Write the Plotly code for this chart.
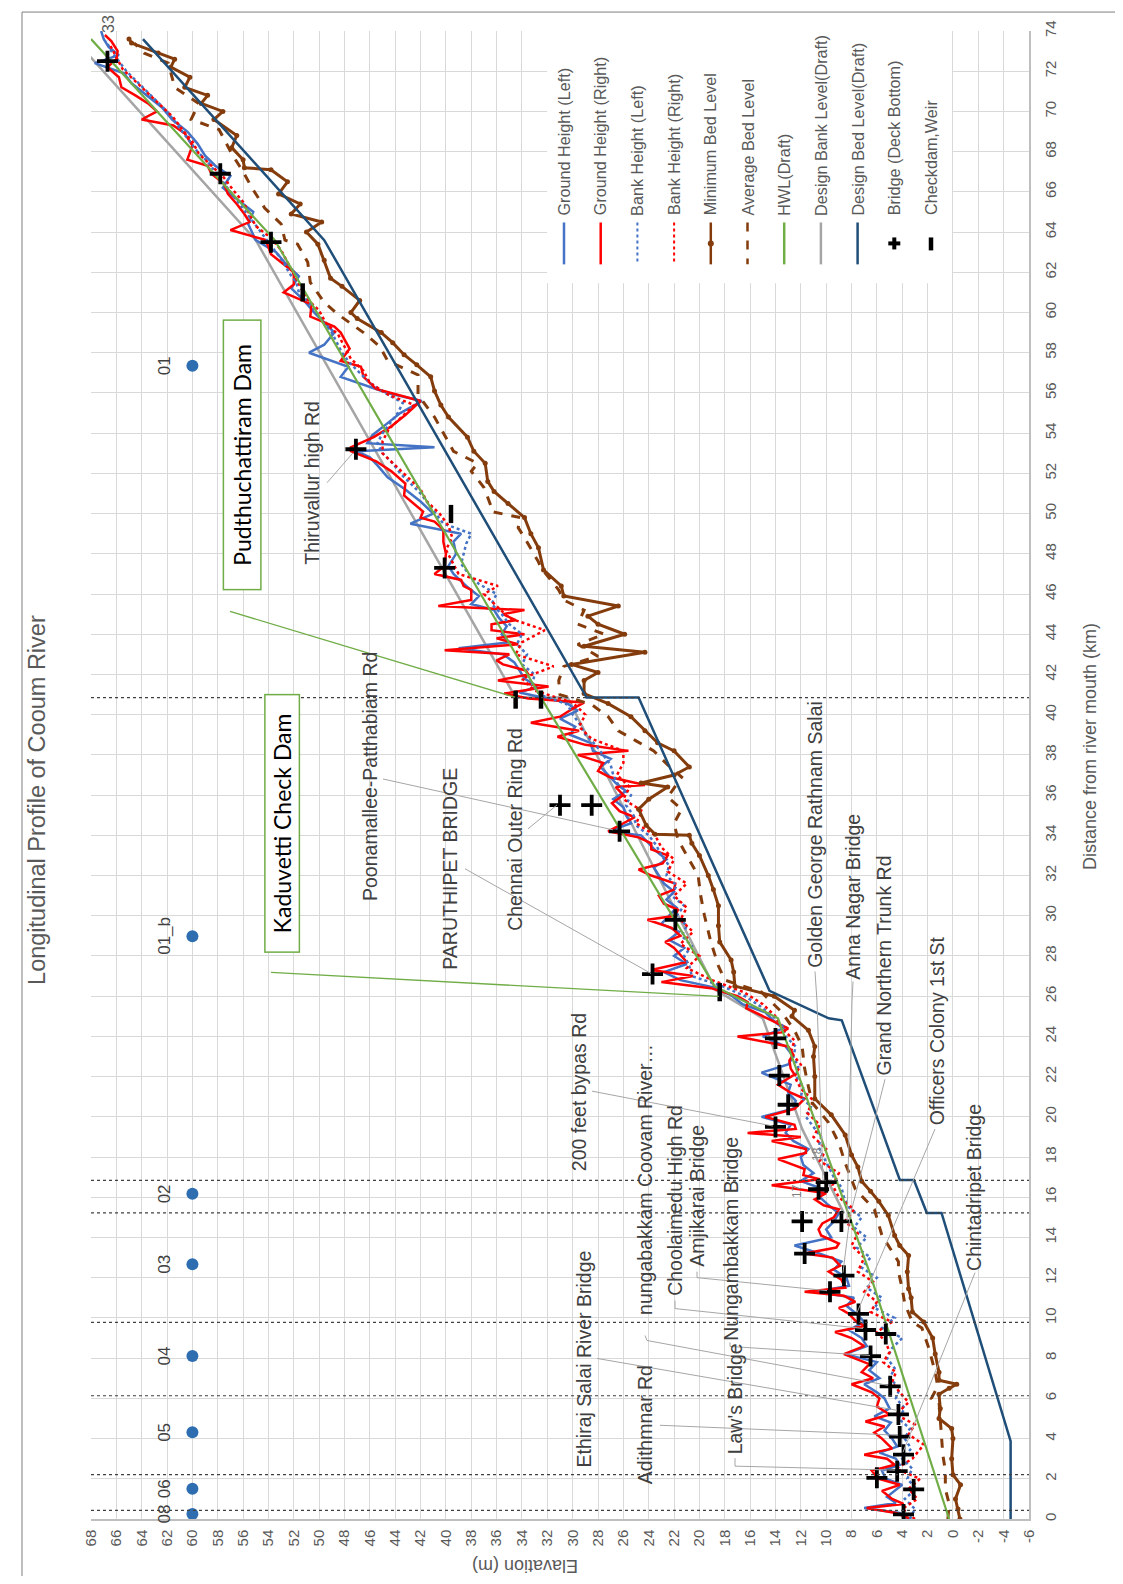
import plotly.graph_objects as go

# ---------------- DATA (distance km, elevation m) ----------------
ground_right = [(0.0,3.3),(0.3,4.5),(0.55,6.8),(0.75,3.9),(1.0,4.8),(1.4,5.6),(1.7,4.2),(2.0,5.9),(2.4,6.4),(2.7,4.6),
 (3.0,5.2),(3.2,7.0),(3.5,4.8),(4.0,5.6),(4.3,6.2),(4.6,5.4),(4.85,6.9),(5.2,5.0),(5.6,6.0),(6.0,5.8),(6.3,6.4),(6.7,8.0),
 (7.0,6.3),(7.3,7.2),(7.7,6.6),(8.2,8.6),(8.6,7.0),(9.0,8.0),(9.3,9.3),(9.6,7.0),(9.8,7.6),(10.2,8.2),(10.5,9.0),(10.8,7.7),
 (11.1,8.6),(11.3,11.7),(11.5,8.5),(11.9,8.8),(12.3,9.8),(12.6,8.9),(13.0,9.5),(13.2,11.7),(13.5,9.2),(13.7,9.0),(14.1,10.4),
 (14.4,10.6),(14.7,10.3),(15.0,9.4),(15.4,9.0),(15.6,10.2),(15.9,10.9),(16.2,10.0),(16.6,14.3),(16.9,10.5),(17.1,11.8),
 (17.4,11.7),(17.9,13.8),(18.2,11.6),(18.4,11.6),(18.8,14.3),(19.0,12.0),(19.2,16.2),(19.4,12.4),(19.6,12.5),(20.0,14.8),
 (20.4,12.5),(20.9,11.7),(21.2,12.8),(21.6,13.8),(22.1,12.5),(22.4,12.8),(22.8,12.9),(23.1,12.6),(23.5,13.0),(24.0,17.0),
 (24.2,13.5),(24.4,13.0),(24.7,14.0),(25.0,15.1),(25.4,16.3),(25.7,16.2),(26.0,17.0),(26.4,19.1),(26.7,23.0),(27.0,20.5),
 (27.3,23.8),(27.7,21.0),(28.0,21.4),(28.4,22.0),(28.7,22.7),(29.0,21.5),(29.4,22.2),(29.8,24.1),(30.0,21.9),(30.3,21.7),
 (30.6,22.8),(31.0,23.2),(31.3,22.0),(31.6,21.9),(32.0,23.8),(32.3,24.8),(32.6,22.9),(33.0,22.5),(33.3,23.8),(33.6,23.8),
 (33.9,24.8),(34.2,27.2),(34.6,26.0),(34.9,25.1),(35.2,26.3),(35.6,26.9),(36.0,26.0),(36.4,26.6),(36.5,24.3),(36.9,27.1),
 (37.2,28.0),(37.6,27.6),(38.0,29.6),(38.2,25.6),(38.5,29.0),(38.9,31.2),(39.2,29.5),(39.6,33.3),(39.9,31.0),(40.3,30.0),
 (40.6,29.1),(40.8,33.5),(41.05,35.4),(41.4,31.9),(41.7,35.9),(42.0,33.5),(42.2,33.7),(42.5,35.5),(42.7,36.0),(43.0,35.0),
 (43.2,40.1),(43.5,34.3),(43.8,36.0),(44.0,33.8),(44.2,36.4),(44.5,36.4),(44.7,34.5),(45.0,35.5),(45.2,33.8),(45.4,40.6),
 (45.7,38.0),(46.2,38.0),(46.4,38.6),(46.7,38.8),(47.0,40.9),(47.4,40.1),(48.0,40.0),(48.6,40.2),(49.2,40.2),(49.6,40.9),
 (49.8,42.0),(50.1,41.8),(50.9,43.3),(51.5,43.2),(52.1,44.3),(52.6,45.5),(53.1,47.5),(53.3,47.5),(53.8,45.7),(54.3,44.4),
 (54.9,43.2),(55.6,42.0),(56.2,45.5),(56.8,46.5),(57.3,46.7),(57.6,48.3),(58.2,47.6),(59.0,48.3),(59.3,48.8),(59.8,50.7),
 (60.4,50.6),(61.0,52.8),(61.4,52.0),(62.0,52.0),(62.5,53.0),(62.9,53.8),(63.6,54.2),(64.1,57.0),(64.5,55.5),(64.9,55.9),
 (65.4,56.5),(65.9,57.2),(66.4,57.5),(66.9,58.5),(67.3,58.8),(67.6,60.4),(68.3,60.0),(68.9,60.6),(69.3,61.5),(69.6,64.0),
 (70.0,62.8),(70.4,63.5),(70.8,64.5),(71.2,65.6),(71.7,65.8),(72.2,66.7),(72.6,66.0),(73.0,65.9),(73.5,66.4),(73.8,66.9)]

ground_left = [(0.0,3.6),(0.3,4.2),(0.55,7.0),(0.8,4.5),(1.1,5.2),(1.4,4.6),(1.7,4.0),(2.0,5.3),(2.4,5.6),(2.7,4.2),
 (3.0,4.5),(3.3,5.8),(3.6,4.4),(4.0,4.8),(4.4,5.4),(4.8,4.9),(5.1,6.2),(5.5,5.0),(6.0,5.4),(6.3,6.0),(6.7,7.0),(7.0,5.8),
 (7.4,6.6),(7.8,6.0),(8.2,8.5),(8.6,6.8),(9.0,7.2),(9.4,8.2),(9.8,7.0),(10.2,7.6),(10.6,8.4),(11.0,7.8),(11.3,10.8),
 (11.6,8.2),(12.0,8.4),(12.4,9.4),(12.8,8.8),(13.2,10.5),(13.6,12.5),(14.0,9.6),(14.4,10.0),(14.8,9.4),(15.2,9.0),
 (15.6,9.8),(16.0,10.5),(16.4,10.2),(16.8,12.0),(17.2,11.0),(17.6,11.8),(18.0,12.0),(18.4,11.4),(18.8,12.6),(19.2,13.2),
 (19.6,12.8),(20.0,15.1),(20.4,12.6),(20.8,12.4),(21.2,13.0),(21.6,12.8),(22.2,15.1),(22.6,13.0),(23.0,12.6),(23.5,13.2),
 (24.0,15.0),(24.4,13.4),(24.8,14.2),(25.2,14.8),(25.6,16.6),(26.0,17.4),(26.4,18.6),(26.8,21.5),(27.2,22.8),(27.6,21.0),
 (28.0,22.0),(28.4,21.2),(28.8,22.4),(29.2,21.6),(29.6,23.0),(30.0,22.4),(30.4,21.8),(30.8,22.6),(31.2,22.0),(31.6,22.8),
 (32.0,23.2),(32.4,23.6),(32.8,22.6),(33.2,23.4),(33.6,24.0),(34.0,24.6),(34.2,27.2),(34.6,25.4),(35.0,25.8),(35.4,26.0),
 (35.8,26.8),(36.2,25.8),(36.6,26.6),(37.0,27.2),(37.4,27.8),(37.8,27.0),(38.2,28.4),(38.6,28.6),(39.0,30.2),(39.4,29.8),
 (39.8,31.0),(40.2,29.6),(40.6,30.5),(40.8,32.0),(41.1,34.2),(41.4,32.8),(41.8,33.8),(42.2,34.2),(42.6,34.6),(43.0,35.5),
 (43.3,39.0),(43.6,35.0),(44.0,35.6),(44.4,35.2),(44.8,35.8),(45.2,36.2),(45.5,38.0),(45.9,37.4),(46.4,38.4),(47.0,39.4),
 (47.4,39.8),(48.0,39.2),(48.6,39.4),(49.0,38.8),(49.5,42.8),(50.0,41.0),(50.6,42.0),(51.2,43.2),(51.8,44.6),(52.4,45.4),
 (52.8,46.0),(53.1,47.0),(53.3,40.9),(53.5,46.2),(53.9,45.8),(54.5,44.6),(55.0,43.6),(55.6,41.9),(56.0,44.6),(56.8,48.3),
 (57.3,47.7),(58.0,50.8),(58.4,49.6),(59.0,48.8),(59.5,49.6),(60.0,50.4),(60.6,51.2),(61.2,52.2),(61.8,51.6),(62.4,52.6),
 (63.0,53.4),(63.6,55.0),(64.4,55.6),(65.0,55.2),(65.6,56.4),(66.2,57.6),(66.8,57.0),(67.3,58.2),(67.8,59.0),(68.4,59.6),
 (69.0,60.4),(69.6,61.6),(70.2,62.4),(70.8,63.6),(71.4,64.8),(71.9,65.4),(72.4,67.7),(72.8,65.8),(73.2,66.6),(73.6,67.0),
 (74.0,67.2)]

bank_left = [(0.0,3.4),(0.5,3.0),(1.0,3.8),(1.5,2.9),(2.0,3.6),(2.5,3.2),(3.0,4.0),(3.5,3.3),(4.0,3.8),(4.5,3.4),(5.0,4.3),
 (5.5,3.8),(6.0,4.5),(6.5,4.2),(7.0,5.0),(7.5,4.6),(8.0,5.2),(8.5,4.8),(9.0,4.0),(9.5,5.6),(10.0,4.6),(10.5,6.2),(11.0,5.6),
 (11.5,6.8),(12.0,6.0),(12.5,7.2),(13.0,6.5),(13.5,7.6),(14.0,6.8),(14.5,7.8),(15.0,7.2),(15.5,8.2),(16.0,8.6),(16.5,8.8),
 (17.0,9.4),(17.5,9.8),(18.0,10.2),(18.5,10.6),(19.0,10.4),(19.5,11.0),(20.0,11.6),(20.5,11.2),(21.0,12.0),(21.5,11.8),
 (22.0,12.4),(22.5,12.2),(23.0,12.6),(23.5,12.4),(24.0,13.2),(24.5,13.4),(25.0,14.2),(25.5,15.2),(26.0,16.4),(26.5,18.2),
 (27.0,20.6),(27.5,20.8),(28.0,21.2),(28.5,20.6),(29.0,21.4),(29.5,21.0),(30.0,21.8),(30.5,21.2),(31.0,22.2),(31.5,21.8),
 (32.0,22.6),(32.5,22.4),(33.0,23.0),(33.5,23.4),(34.0,24.0),(34.5,25.0),(35.0,25.2),(35.5,25.8),(36.0,25.4),(36.5,26.4),
 (37.0,26.8),(37.5,27.0),(38.0,27.6),(38.5,28.2),(39.0,29.0),(39.5,29.4),(40.0,30.0),(40.5,30.4),(41.0,32.6),(41.5,33.2),
 (42.0,33.0),(42.5,34.0),(43.0,33.6),(43.5,34.4),(44.0,34.0),(44.5,35.0),(45.0,35.6),(45.5,36.4),(46.0,36.0),(46.5,37.4),
 (47.0,38.2),(47.5,38.8),(48.0,38.6),(48.5,38.4),(49.0,38.0),(49.5,40.2),(50.0,40.8),(50.5,41.4),(51.0,42.0),(51.5,42.8),
 (52.0,43.6),(52.5,44.2),(53.0,45.0),(53.5,45.4),(54.0,45.0),(54.5,44.4),(55.0,43.8),(55.5,43.4),(56.0,44.8),(56.5,46.0),
 (57.0,46.8),(57.5,47.6),(58.0,48.2),(58.5,48.6),(59.0,49.0),(59.5,49.6),(60.0,50.2),(60.5,50.8),(61.0,51.6),(61.5,51.8),
 (62.0,52.4),(62.5,52.8),(63.0,53.4),(63.5,54.0),(64.0,54.6),(64.5,55.2),(65.0,55.8),(65.5,56.4),(66.0,57.0),(66.5,57.6),
 (67.0,58.2),(67.5,58.8),(68.0,59.6),(68.5,60.2),(69.0,60.8),(69.5,61.4),(70.0,62.0),(70.5,62.8),(71.0,63.6),(71.5,64.4),
 (72.0,65.2),(72.5,65.8),(73.0,66.4),(73.5,66.8)]

bank_right = [(0.0,3.0),(0.5,4.0),(1.0,2.8),(1.5,3.5),(2.0,2.6),(2.5,4.5),(3.0,3.2),(3.7,2.3),(4.2,3.5),(4.7,3.0),(5.2,4.5),
 (5.8,3.5),(6.3,4.2),(6.8,4.8),(7.3,4.5),(7.8,5.5),(8.3,5.0),(8.8,5.3),(9.3,6.0),(9.8,4.8),(10.3,6.5),(10.8,6.0),(11.3,7.0),
 (11.8,6.3),(12.3,7.5),(13.0,7.0),(13.6,8.0),(14.2,7.5),(14.8,8.5),(15.4,7.8),(16.0,9.0),(16.6,9.5),(17.2,9.0),(17.8,10.5),
 (18.4,10.0),(19.0,11.0),(19.6,10.5),(20.2,11.5),(20.8,11.0),(21.4,12.0),(22.0,12.5),(22.6,12.0),(23.2,12.8),(23.8,12.5),
 (24.4,13.5),(25.0,14.0),(25.6,15.0),(26.2,16.5),(26.8,19.0),(27.4,21.0),(28.0,20.0),(28.6,21.5),(29.2,20.5),(29.8,21.5),
 (30.4,21.0),(31.0,22.0),(31.6,21.0),(32.2,22.5),(32.8,22.0),(33.4,23.0),(34.0,23.5),(34.6,25.0),(35.2,24.5),(35.8,26.0),
 (36.4,25.5),(37.0,26.5),(37.6,26.0),(38.2,26.0),(38.8,28.5),(39.4,29.5),(40.0,29.0),(40.6,30.0),(41.2,33.0),(41.8,34.0),
 (42.4,31.5),(43.0,34.5),(43.6,34.0),(44.2,32.2),(44.8,35.0),(45.4,36.0),(46.0,37.0),(46.4,35.9),(47.0,39.0),(47.6,39.5),
 (48.2,40.0),(48.8,39.5),(49.4,39.8),(50.0,40.5),(50.6,41.5),(51.2,42.0),(51.8,43.0),(52.4,44.0),(53.0,45.0),(53.6,45.0),
 (54.2,44.5),(54.8,43.5),(55.4,42.5),(55.9,44.5),(56.5,46.0),(57.1,46.5),(57.7,47.5),(58.3,48.0),(58.9,48.5),(59.5,49.5),
 (60.1,50.0),(60.7,51.0),(61.3,51.5),(61.9,52.0),(62.5,52.5),(63.1,53.0),(63.7,53.8),(64.3,55.0),(64.9,55.5),(65.5,56.0),
 (66.1,56.8),(66.7,57.5),(67.3,58.5),(67.9,59.5),(68.5,60.0),(69.1,60.8),(69.7,61.5),(70.3,62.5),(70.9,63.5),(71.5,64.5),
 (72.1,65.5),(72.7,66.0),(73.3,66.5)]

min_bed = [(0.0,-0.55),(0.5,-0.4),(1.0,-0.2),(1.7,-0.6),(2.2,0.0),(3.0,0.1),(4.0,0.0),(4.5,0.1),(5.0,1.1),(5.5,1.0),
 (6.2,1.1),(6.5,0.3),(6.7,-0.3),(6.9,1.1),(7.3,1.1),(8.2,1.4),(9.0,1.6),(9.8,2.3),(10.3,3.2),(11.0,3.3),(11.45,3.5),
 (12.3,3.6),(13.1,3.5),(13.6,4.2),(14.1,4.6),(15.1,5.1),(15.8,5.85),(16.3,6.5),(16.8,7.2),(17.5,7.5),(18.1,8.0),(19.1,8.5),
 (20.1,9.6),(20.9,10.9),(22.0,10.9),(23.0,11.0),(23.5,10.9),(24.3,11.4),(25.0,12.7),(25.3,12.5),(26.0,14.1),(26.5,17.2),
 (27.2,17.3),(27.8,17.5),(28.7,18.4),(29.5,18.5),(30.5,18.5),(31.3,18.9),(32.0,19.3),(33.0,20.0),(33.6,20.6),(34.0,20.8),
 (34.05,23.5),(34.5,24.2),(35.3,24.8),(35.8,24.0),(36.4,22.5),(36.6,24.6),(37.0,22.0),(37.4,20.8),(38.2,22.0),(38.6,23.3),
 (39.2,24.3),(39.9,25.4),(40.55,27.2),(41.05,29.1),(41.7,29.1),(42.1,28.0),(42.5,30.1),(43.1,24.3),(43.4,29.1),(44.0,25.9),
 (44.5,28.0),(44.9,28.8),(45.4,26.4),(45.9,30.7),(46.4,30.9),(47.2,32.3),(48.3,32.7),(49.0,33.3),(49.8,33.8),(50.5,35.1),
 (51.1,36.2),(51.6,36.7),(52.5,36.9),(53.1,37.8),(53.8,38.3),(54.8,39.8),(55.4,40.4),(56.1,40.9),(56.8,41.2),(57.4,42.3),
 (57.9,43.3),(58.5,44.2),(59.0,45.1),(59.7,47.0),(60.0,47.5),(60.6,46.8),(61.3,48.2),(61.7,49.1),(62.6,49.6),(63.4,50.1),
 (64.0,51.0),(64.5,49.8),(64.9,52.2),(65.4,51.5),(65.9,53.2),(66.5,52.5),(67.1,53.8),(67.2,55.9),(67.6,56.0),(68.2,56.9),
 (68.8,56.5),(69.6,58.3),(70.0,57.6),(70.4,59.3),(70.8,58.8),(71.2,60.6),(71.7,60.2),(72.2,61.7),(72.6,61.4),(72.9,62.7),
 (73.4,64.8),(73.6,65.0)]

avg_bed = [(0.0,0.4),(0.75,0.3),(1.5,0.6),(2.4,0.6),(3.2,0.8),(4.0,0.9),(5.0,1.0),(5.85,1.1),(6.0,1.7),(6.6,1.2),(7.3,1.4),
 (8.5,1.9),(9.5,2.45),(9.8,3.2),(10.7,3.8),(11.45,4.0),(12.3,4.3),(12.8,4.3),(13.5,5.0),(14.1,5.6),(15.4,6.2),(16.4,7.7),
 (17.7,8.5),(18.7,9.0),(19.7,9.8),(20.7,11.1),(21.5,11.4),(22.4,11.7),(23.5,11.9),(24.3,12.5),(25.2,13.5),(25.7,14.3),
 (26.2,15.1),(26.8,18.0),(27.5,18.5),(28.7,19.1),(30.0,19.6),(31.0,19.9),(32.0,20.1),(33.0,21.0),(33.8,21.7),(34.6,22.0),
 (35.3,21.4),(35.9,22.5),(36.9,21.4),(37.5,22.5),(38.2,23.6),(38.7,25.0),(39.2,26.4),(39.9,27.2),(40.5,28.5),(41.0,31.0),
 (41.7,31.1),(42.4,30.7),(42.9,28.0),(43.5,29.6),(44.0,27.5),(44.5,29.6),(45.2,29.1),(45.7,30.7),(46.2,31.1),(47.3,32.5),
 (47.6,32.7),(48.8,33.8),(49.3,34.3),(49.8,34.1),(50.1,36.4),(50.3,36.4),(51.3,37.0),(52.1,38.0),(52.5,37.5),(53.1,39.4),
 (53.9,40.1),(54.8,40.9),(55.9,42.2),(56.9,42.2),(57.6,44.6),(58.3,45.2),(59.0,46.5),(59.9,48.5),(60.5,49.6),(61.5,50.7),
 (62.5,50.9),(63.4,51.7),(63.6,52.7),(64.4,53.0),(65.2,54.3),(66.2,55.3),(67.0,56.0),(67.9,56.9),(69.1,57.9),(69.6,60.1),
 (70.4,59.5),(71.2,61.4),(72.4,61.9),(72.9,63.8),(73.4,64.6)]

hwl_d = [0.0, 12.3, 24.9, 26.5, 40.85, 55.4, 63.6, 73.6]
hwl_e = [0.3, 6.6, 13.8, 18.8, 32.5, 45.9, 53.5, 68.0]

design_bank_d = [15.2, 19.4, 24.9, 26.3, 40.85, 40.85, 63.6, 74.0]
design_bank_e = [8.6, 11.9, 15.0, 18.7, 30.4, 34.5, 55.0, 69.9]

design_bed_d = [0.0, 3.87, 15.22, 15.22, 16.86, 16.86, 24.8, 24.9, 26.27, 40.85, 40.85, 63.6, 73.6]
design_bed_e = [-4.55, -4.55, 0.9, 2.06, 3.08, 4.19, 8.77, 9.8, 14.47, 24.8, 28.9, 49.6, 63.9]

bridge_d = [0.23, 1.47, 2.05, 2.38, 3.2, 4.1, 5.2, 6.6, 8.1, 9.2, 9.4, 10.2, 11.3, 12.1, 13.2, 14.8, 14.8, 16.4, 16.75,
            19.5, 20.6, 22.05, 23.9, 27.1, 29.8, 34.2, 35.5, 35.5, 47.3, 53.2, 63.5, 66.9, 72.5]
bridge_e = [3.9, 3.1, 6.0, 4.4, 3.9, 4.2, 4.3, 4.95, 6.5, 5.3, 6.9, 7.45, 9.7, 8.6, 11.7, 11.9, 8.8, 10.6, 10.0,
            14.0, 13.0, 13.7, 14.0, 23.7, 21.9, 26.3, 31.0, 28.5, 40.1, 47.1, 53.8, 57.8, 66.7]

checkdam_d = [26.2, 40.75, 40.75, 49.98, 61.0]
checkdam_e = [18.4, 34.5, 32.5, 39.6, 51.3]

station_d = [0.25, 1.51, 4.31, 8.11, 12.67, 16.17, 28.98, 57.35]
station_e = [60, 60, 60, 60, 60, 60, 60, 60]
station_lbl = ['08', '06', '05', '04', '03', '02', '01_b', '01']

section_lines_d = [0.43, 2.21, 6.13, 9.78, 15.22, 16.84, 40.85]

elev_ticks = list(range(68, -7, -2))
elev_tick_text = [str(v) for v in elev_ticks]
dist_ticks = list(range(0, 75, 2))
dist_tick_text = [str(v) for v in dist_ticks]

# ---------------- LAYOUT HELPERS ----------------
W, H = 1107, 1568
OFF = 8
PL, PR, PT, PB = 91, 1029, 27, 1519
FONT = "Liberation Sans, Arial, sans-serif"


def px(x):
    return (x - PL) / (PR - PL)


def py(y):
    return (PB - y) / (PB - PT)


def unzip(pairs):
    return [p[1] for p in pairs], [p[0] for p in pairs]


fig = go.Figure()


def line_trace(x, y, color, width, dash='solid', mode='lines', msize=0):
    fig.add_trace(go.Scatter(x=x, y=y, mode=mode, showlegend=False, hoverinfo='skip',
                             line=dict(color=color, width=width, dash=dash),
                             marker=dict(size=msize, color=color)))


BLUE, RED, BROWN, GREEN, GRAY, NAVY = '#4472c4', '#ff0000', '#843c0c', '#70ad47', '#a5a5a5', '#1f4e79'

line_trace(design_bank_e, design_bank_d, GRAY, 2.5)
e, d = unzip(ground_left); line_trace(e, d, BLUE, 2.5)
e, d = unzip(ground_right); line_trace(e, d, RED, 2.5)
e, d = unzip(bank_left); line_trace(e, d, BLUE, 2.5, 'dot')
e, d = unzip(bank_right); line_trace(e, d, RED, 2.5, 'dot')
e, d = unzip(min_bed); line_trace(e, d, BROWN, 3, mode='lines+markers', msize=5)
e, d = unzip(avg_bed); line_trace(e, d, BROWN, 3, 'dash')
line_trace(hwl_e, hwl_d, GREEN, 2.2)
line_trace(design_bed_e, design_bed_d, NAVY, 2.5)

fig.add_trace(go.Scatter(x=bridge_e, y=bridge_d, mode='markers', showlegend=False, hoverinfo='skip',
                         marker=dict(symbol='cross-thin', size=15, line=dict(color='black', width=3.8))))
fig.add_trace(go.Scatter(x=checkdam_e, y=checkdam_d, mode='markers', showlegend=False, hoverinfo='skip',
                         marker=dict(symbol='line-ns', size=13, line=dict(color='black', width=4.5))))
fig.add_trace(go.Scatter(x=station_e, y=station_d, mode='markers', showlegend=False, hoverinfo='skip',
                         marker=dict(symbol='circle', size=12, color='#2e6eb0')))

shapes = []
annotations = []


def seg(x0, y0, x1, y1, color='#a6a6a6', width=1, dash='solid'):
    shapes.append(dict(type='line', xref='paper', yref='paper', x0=px(x0), y0=py(y0), x1=px(x1), y1=py(y1),
                       line=dict(color=color, width=width, dash=dash), layer='above'))


def poly(pts, color='#a6a6a6', width=1):
    for a, b in zip(pts[:-1], pts[1:]):
        seg(a[0], a[1], b[0], b[1], color, width)


def rtext(text, x, y, size, color='#404040', family=FONT, xanchor='center', yanchor='middle', **kw):
    annotations.append(dict(text=text, x=px(x), y=py(y), xref='paper', yref='paper', showarrow=False,
                            textangle=-90, font=dict(size=size, color=color, family=family),
                            xanchor=xanchor, yanchor=yanchor, **kw))


# section (dotted) lines
for dd in section_lines_d:
    shapes.append(dict(type='line', xref='paper', yref='y', x0=0, x1=1, y0=dd, y1=dd,
                       line=dict(color='#404040', width=1.2, dash='dot'), layer='above'))

# chart frame
shapes.append(dict(type='rect', xref='paper', yref='paper', x0=px(22), x1=px(1200), y0=py(8), y1=py(1700),
                   line=dict(color='#7f7f7f', width=1), layer='above'))

# green callout lines
seg(271, 971, 719, 995, GREEN, 1.3)
seg(230, 609, 515, 695, GREEN, 1.3)

# leader lines
poly([(327, 480), (353, 450)])
poly([(383, 777), (613, 828)])
poly([(465, 867), (651, 972)])
poly([(528, 827), (557, 803)])
poly([(815, 970), (817, 1000), (823, 1180)])
poly([(853, 980), (852, 1000), (847, 1220)])
poly([(885, 1078), (872, 1130), (850, 1215), (843, 1272)])
poly([(935, 1128), (857, 1312)])
poly([(975, 1272), (903, 1452)])
poly([(592, 1090), (773, 1125)])
poly([(645, 1335), (647, 1340), (888, 1385)])
poly([(675, 1300), (675, 1308), (863, 1328)])
poly([(697, 1271), (697, 1277), (827, 1290)])
poly([(730, 1342), (730, 1346), (870, 1355)])
poly([(597, 1358), (897, 1410)])
poly([(660, 1425), (898, 1435)])
poly([(735, 1458), (735, 1466), (895, 1470)])

# legend box
shapes.append(dict(type='rect', xref='paper', yref='paper', x0=px(547), x1=px(952), y0=py(280), y1=py(27),
                   fillcolor='white', line=dict(width=0), layer='above'))
legend_items = [('Ground Height (Left)', BLUE, 'solid'), ('Ground Height (Right)', RED, 'solid'),
                ('Bank Height (Left)', BLUE, 'dot'), ('Bank Height (Right)', RED, 'dot'),
                ('Minimum Bed Level', BROWN, 'solid'), ('Average Bed Level', BROWN, 'dash'),
                ('HWL(Draft)', GREEN, 'solid'), ('Design Bank Level(Draft)', GRAY, 'solid'),
                ('Design Bed Level(Draft)', NAVY, 'solid'), ('Bridge (Deck Bottom)', None, 'plus'),
                ('Checkdam,Weir', None, 'bar')]
for i, (name, col, kind) in enumerate(legend_items):
    lx = 564 + 36.7 * i
    if kind == 'plus':
        seg(lx - 6, 240, lx + 6, 240, 'black', 4)
        seg(lx, 234, lx, 246, 'black', 4)
    elif kind == 'bar':
        seg(lx, 234, lx, 247, 'black', 4.5)
    else:
        seg(lx, 219, lx, 261, col, 2.5 if kind != 'dot' else 2, kind)
        if name == 'Minimum Bed Level':
            shapes.append(dict(type='circle', xref='paper', yref='paper', x0=px(lx - 3), x1=px(lx + 3),
                               y0=py(243), y1=py(237), fillcolor=BROWN, line=dict(width=0), layer='above'))
    rtext(name, lx, 214, 16.2, '#595959', yanchor='bottom')

# title and axis titles
rtext('Longitudinal Profile of Cooum River', 37, 798, 23.5, '#595959')
rtext('Distance from river mouth (km)', 1090, 745, 18, '#595959')
annotations.append(dict(text='Elavation (m)', x=px(525), y=py(1566), xref='paper', yref='paper',
                        showarrow=False, textangle=180, font=dict(size=18, color='#595959', family=FONT),
                        xanchor='center', yanchor='middle'))

# station labels
for sd, lbl in zip(station_d, station_lbl):
    annotations.append(dict(text=lbl, x=62.2, y=sd, xref='x', yref='y', showarrow=False, textangle=-90,
                            font=dict(size=17, color='#404040', family=FONT), xanchor='center', yanchor='middle'))
rtext('33', 108, 20, 16, '#595959')
rtext('18', 817, 1153, 12, '#7f7f7f')
rtext('17', 797, 1190, 12, '#7f7f7f')

# dam boxes
for txt, cx, cy, ln, th in [('Pudthuchattiram Dam', 242.5, 452, 268, 36), ('Kaduvetti Check Dam', 282, 822, 256, 33)]:
    annotations.append(dict(text=txt, x=px(cx), y=py(cy), xref='paper', yref='paper', showarrow=False,
                            textangle=-90, width=ln, height=th, align='center', valign='middle',
                            font=dict(size=23, color='black', family='Lato, Carlito, sans-serif'),
                            bordercolor=GREEN, borderwidth=1.5, borderpad=0, bgcolor='white',
                            xanchor='center', yanchor='middle'))

# bridge labels
for txt, cx, cy in [('Thiruvallur high Rd', 312, 480), ('Poonamallee-Patthabiam Rd', 370, 775),
                    ('PARUTHIPET BRIDGE', 450, 867), ('Chennai Outer Ring Rd', 515, 828),
                    ('Golden George Rathnam Salai', 815, 833), ('Anna Nagar Bridge', 853, 895),
                    ('Grand Northern Trunk Rd', 884, 964), ('Officers Colony 1st St', 937, 1030),
                    ('Chintadripet Bridge', 974, 1187), ('200 feet bypas Rd', 579, 1091),
                    ('nungabakkam Coovam River…', 645, 1179), ('Choolaimedu High Rd', 675, 1200),
                    ('Amjikarai Bridge', 697, 1195), ('Nungambakkam Bridge', 731, 1238),
                    ('Ethiraj Salai River Bridge', 584, 1359), ('Adithmnar Rd', 645, 1425),
                    ("Law's Bridge", 735, 1399)]:
    rtext(txt, cx, cy, 19.5, '#404040')

fig.update_layout(
    width=W, height=H, autosize=False,
    margin=dict(l=PL - OFF, r=W - (PR - OFF), t=PT - OFF, b=H - (PB - OFF), pad=0),
    paper_bgcolor='white', plot_bgcolor='white',
    xaxis=dict(range=[68, -6], tickmode='array', tickvals=elev_ticks, ticktext=elev_tick_text,
               showgrid=True, gridcolor='#d9d9d9', gridwidth=1,
               zeroline=False, showline=True, linecolor='#bfbfbf', linewidth=1.5, tickangle=-90,
               ticks='outside', ticklen=3, tickcolor='rgba(0,0,0,0)',
               tickfont=dict(size=15, color='#595959', family=FONT)),
    yaxis=dict(range=[0, 74], tickmode='array', tickvals=dist_ticks, ticktext=dist_tick_text,
               side='right', showgrid=True, gridcolor='#d9d9d9', gridwidth=1,
               zeroline=False, showline=True, linecolor='#bfbfbf', linewidth=1.5, tickangle=-90,
               ticks='outside', ticklen=7, tickcolor='rgba(0,0,0,0)',
               tickfont=dict(size=15, color='#595959', family=FONT)),
    shapes=shapes, annotations=annotations, showlegend=False,
)

fig.write_html("out.html")
